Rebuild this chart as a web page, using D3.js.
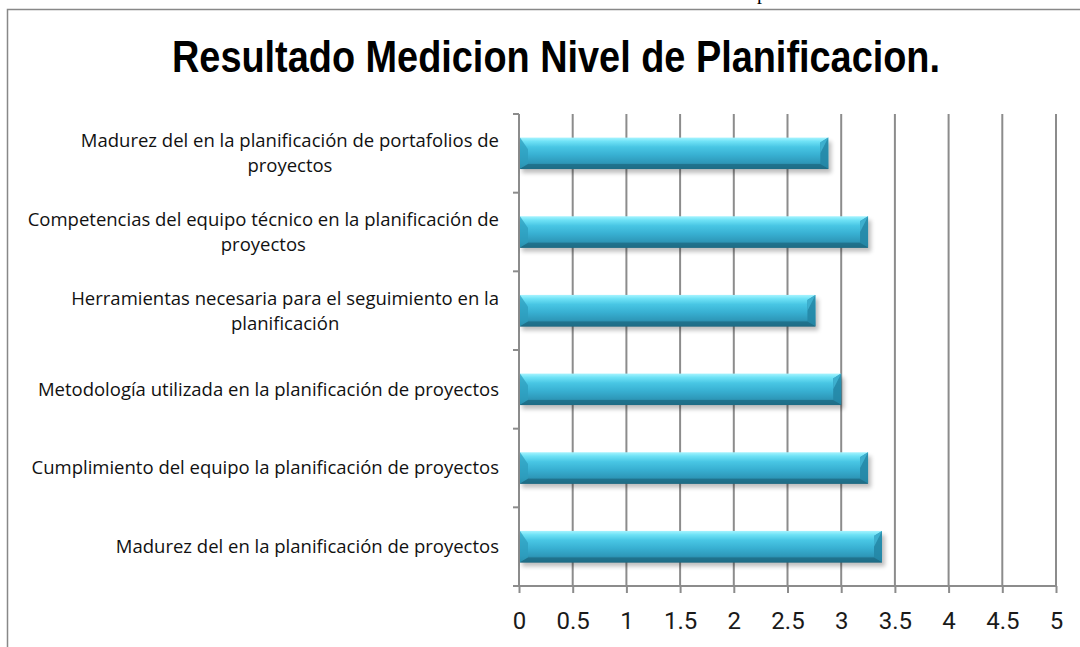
<!DOCTYPE html>
<html>
<head>
<meta charset="utf-8">
<script src="https://cdn.jsdelivr.net/npm/d3@7"></script>
<style>
  html, body { margin: 0; padding: 0; background: #fff; }
  svg { display: block; }
</style>
</head>
<body>
<div id="chart"></div>
<script>
// Categories, top to bottom ("\n" marks the line break used in the chart)
const categories = [
    "Madurez del en la planificación de portafolios de\nproyectos",
    "Competencias del equipo técnico en la planificación de\nproyectos",
    "Herramientas necesaria para el seguimiento en la\nplanificación",
    "Metodología utilizada en la planificación de proyectos",
    "Cumplimiento del equipo la planificación de proyectos",
    "Madurez del en la planificación de proyectos"
];
const values = [2.88, 3.25, 2.76, 3.0, 3.25, 3.38];
const xTicks = [0, 0.5, 1, 1.5, 2, 2.5, 3, 3.5, 4, 4.5, 5];
const xTickLabels = ["0", "0.5", "1", "1.5", "2", "2.5", "3", "3.5", "4", "4.5", "5"];
const title = "Resultado Medicion Nivel de Planificacion.";

const W = 1080, H = 647;
const plot = { left: 519, right: 1056, top: 114, bottom: 586 };

const svg = d3.select("#chart")
    .append("svg")
    .attr("width", W)
    .attr("height", H);

const defs = svg.append("defs");

// bar body gradient
const grad = defs.append("linearGradient")
    .attr("id", "barGrad")
    .attr("x1", 0).attr("y1", 0).attr("x2", 0).attr("y2", 1);
[
    [0, "#a6f4ff"], [0.12, "#6fe2f6"], [0.3, "#48c6e4"], [0.55, "#38b0d2"],
    [0.8, "#2e98b9"], [0.9, "#267f9b"], [1, "#1b5d72"]
].forEach(([o, c]) => grad.append("stop").attr("offset", o).attr("stop-color", c));

const shadow = defs.append("filter")
    .attr("id", "shadow")
    .attr("x", "-5%").attr("y", "-30%").attr("width", "110%").attr("height", "160%");
shadow.append("feGaussianBlur").attr("stdDeviation", 2);

// outer frame of the chart area
svg.append("path")
    .attr("d", `M7.5,${H + 5} V9.5 H${W + 5}`)
    .attr("fill", "none")
    .attr("stroke", "#888")
    .attr("stroke-width", 1.5);

// bit of document text cut off above the frame
svg.append("text")
    .attr("x", 757)
    .attr("y", -1.5)
    .style("font-family", "'Liberation Serif', serif")
    .style("font-size", "20px")
    .text("p");

// Title (condensed bold)
svg.append("text")
    .attr("x", 172)
    .attr("y", 72)
    .attr("textLength", 768)
    .attr("lengthAdjust", "spacingAndGlyphs")
    .style("font-family", "'Liberation Sans', Arial, sans-serif")
    .style("font-weight", "bold")
    .style("font-size", "44px")
    .style("fill", "#000")
    .text(title);

// Scales
const x = d3.scaleLinear()
    .domain([0, 5])
    .range([plot.left, plot.right]);

const y = d3.scaleBand()
    .domain(categories)
    .range([plot.top, plot.bottom])
    .paddingInner(0.6)
    .paddingOuter(0.3);

// vertical gridlines
svg.append("g")
    .selectAll("line")
    .data(xTicks.slice(1))
    .join("line")
    .attr("x1", d => x(d)).attr("x2", d => x(d))
    .attr("y1", plot.top).attr("y2", plot.bottom)
    .attr("stroke", "#8c8c8c")
    .attr("stroke-width", 2);

// x axis
const xAxis = d3.axisBottom(x)
    .tickValues(xTicks)
    .tickFormat((d, i) => xTickLabels[i])
    .tickSize(7)
    .tickPadding(19);

const xg = svg.append("g")
    .attr("transform", `translate(0,${plot.bottom})`)
    .call(xAxis);
xg.select(".domain").attr("stroke", "#8c8c8c").attr("stroke-width", 2)
    .attr("d", `M${plot.left - 6},0H${plot.right}`);
xg.selectAll(".tick line").attr("stroke", "#8c8c8c").attr("stroke-width", 2);
xg.selectAll(".tick text")
    .style("font-family", "Roboto, sans-serif")
    .style("font-size", "24px")
    .style("fill", "#1a1a1a");

// y axis line and boundary ticks
const step = y.step();
const bounds = d3.range(categories.length + 1).map(i => plot.top + i * step);
svg.append("line")
    .attr("x1", plot.left).attr("x2", plot.left)
    .attr("y1", plot.top).attr("y2", plot.bottom)
    .attr("stroke", "#8c8c8c").attr("stroke-width", 2);
svg.append("g")
    .selectAll("line")
    .data(bounds)
    .join("line")
    .attr("x1", plot.left - 6).attr("x2", plot.left)
    .attr("y1", d => d).attr("y2", d => d)
    .attr("stroke", "#8c8c8c").attr("stroke-width", 2);

// Bars
const data = categories.map((c, i) => ({ cat: c, value: values[i] }));
const bh = y.bandwidth();
const bev = 8;

const bars = svg.append("g")
    .selectAll("g")
    .data(data)
    .join("g")
    .attr("transform", d => `translate(${x(0) + 1},${y(d.cat)})`);

// soft shadow
bars.append("rect")
    .attr("x", 2)
    .attr("y", 4)
    .attr("width", d => x(d.value) - x(0))
    .attr("height", bh)
    .attr("fill", "#000")
    .attr("opacity", 0.25)
    .attr("filter", "url(#shadow)");

bars.append("rect")
    .attr("width", d => x(d.value) - x(0) - 1)
    .attr("height", bh)
    .attr("fill", "url(#barGrad)");

// bevel pieces on both ends
bars.append("path")
    .attr("d", `M0,0 L${bev},${bh / 2 - 4} L${bev},${bh - 5} L0,${bh} Z`)
    .attr("fill", "#2e9dbd")
    .attr("opacity", 0.75);

bars.append("path")
    .attr("d", d => {
        const w = x(d.value) - x(0) - 1;
        return `M${w},0 L${w - bev},5 L${w - bev},${bh - 5} L${w},${bh} Z`;
    })
    .attr("fill", "#2587a6")
    .attr("opacity", 0.9);

bars.append("path")
    .attr("d", d => {
        const w = x(d.value) - x(0) - 1;
        return `M${w},0 L${w - bev},5 L${w - bev},${bh / 2} Z`;
    })
    .attr("fill", "#3fb3d1")
    .attr("opacity", 0.9);

bars.append("path")
    .attr("d", d => {
        const w = x(d.value) - x(0) - 1;
        return `M0,${bh} L${bev},${bh - 5} L${w - bev},${bh - 5} L${w},${bh} Z`;
    })
    .attr("fill", "#1f6f88")
    .attr("opacity", 0.85);

// Category labels
const labelRight = 499;
const labels = svg.append("g")
    .selectAll("text")
    .data(categories)
    .join("text")
    .attr("text-anchor", "middle")
    .style("font-family", "'Open Sans', sans-serif")
    .style("font-size", "18.5px")
    .style("fill", "#111");

labels.each(function (c) {
    const lines = c.split("\n");
    const t = d3.select(this);
    const cy = y(c) + bh / 2;
    const lh = 25;
    lines.forEach((ln, i) => {
        t.append("tspan")
            .attr("y", cy + (i - (lines.length - 1) / 2) * lh)
            .attr("dy", "0.35em")
            .text(ln);
    });
    const widths = t.selectAll("tspan").nodes().map(n => n.getComputedTextLength());
    const cx = labelRight - d3.max(widths) / 2;
    t.selectAll("tspan").attr("x", cx);
});
</script>
</body>
</html>
